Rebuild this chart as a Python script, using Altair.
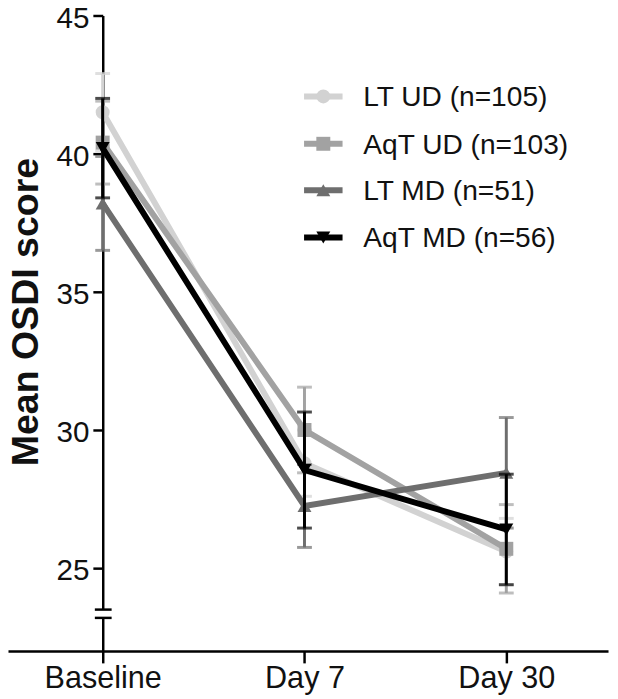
import altair as alt
import pandas as pd

categories = ["Baseline", "Day 7", "Day 30"]
series = ["LT UD (n=105)", "AqT UD (n=103)", "LT MD (n=51)", "AqT MD (n=56)"]
colors = ["#d2d2d2", "#a2a2a2", "#6e6e6e", "#000000"]
shapes = ["circle", "square", "triangle-up", "triangle-down"]

means = {
    "LT UD (n=105)": [41.5, 28.8, 25.6],
    "AqT UD (n=103)": [40.4, 30.0, 25.7],
    "LT MD (n=51)": [38.2, 27.25, 28.45],
    "AqT MD (n=56)": [40.2, 28.55, 26.4],
}
errs = {
    "LT UD (n=105)": [1.4, 1.2, 1.2],
    "AqT UD (n=103)": [1.5, 1.55, 1.6],
    "LT MD (n=51)": [1.7, 1.5, 2.0],
    "AqT MD (n=56)": [1.8, 2.1, 2.0],
}

y_domain = [22, 45]
y_ticks = [25, 30, 35, 40, 45]
axis_break = [23.2, 23.5]

rows = []
for s in series:
    for i, c in enumerate(categories):
        m = means[s][i]
        e = errs[s][i]
        rows.append({"series": s, "cat": c, "idx": i, "mean": m,
                     "lo": m - e, "hi": m + e})
df = pd.DataFrame(rows)

label_expr = "[" + ",".join("'%s'" % c for c in categories) + "][datum.value]"

x_scale = alt.Scale(domain=[-0.469, 2.504], nice=False, zero=False)
y_scale = alt.Scale(domain=y_domain, nice=False, zero=False)

FONT = "Liberation Sans"

x_enc = alt.X("idx:Q", scale=x_scale, axis=alt.Axis(
    values=[0, 1, 2], labelExpr=label_expr, title=None, grid=False,
    domainColor="black", domainWidth=2.5, tickColor="black", tickWidth=2.5,
    tickSize=12, labelFontSize=31, labelColor="#111", labelFont=FONT,
    labelPadding=1, labelFlush=False))
y_enc = alt.Y("mean:Q", scale=y_scale, axis=alt.Axis(
    values=y_ticks, title="Mean OSDI score", grid=False, offset=-96,
    domainColor="black", domainWidth=2.5, tickColor="black", tickWidth=2.5,
    tickSize=10, labelFontSize=30, labelColor="#111", labelFont=FONT,
    labelPadding=4, labelOffset=3, labelFlush=False,
    titleFontSize=38, titleFont=FONT, titleFontWeight="bold",
    titleColor="#111", titleX=-66, titleY=300, titleAlign="center",
    titleBaseline="alphabetic", titleAngle=-90))

layers = []
for s, col, shp in zip(series, colors, shapes):
    d = df[df["series"] == s]
    base = alt.Chart(d)
    err = base.mark_rule(color=col, strokeWidth=3).encode(
        x=alt.X("idx:Q", scale=x_scale), y=alt.Y("lo:Q", scale=y_scale), y2="hi:Q")
    cap_lo = base.mark_tick(color=col, orient="horizontal", size=15, thickness=3).encode(
        x=alt.X("idx:Q", scale=x_scale), y=alt.Y("lo:Q", scale=y_scale))
    cap_hi = base.mark_tick(color=col, orient="horizontal", size=15, thickness=3).encode(
        x=alt.X("idx:Q", scale=x_scale), y=alt.Y("hi:Q", scale=y_scale))
    line = base.mark_line(color=col, strokeWidth=6).encode(x=x_enc, y=y_enc)
    pts = base.mark_point(color=col, filled=True, opacity=1, shape=shp, size=200).encode(
        x=alt.X("idx:Q", scale=x_scale), y=alt.Y("mean:Q", scale=y_scale))
    layers += [err, cap_lo, cap_hi, line, pts]

# axis break marks
brk = pd.DataFrame({"lo": [axis_break[0]], "hi": [axis_break[1]]})
gap = alt.Chart(brk).mark_rule(color="white", strokeWidth=6).encode(
    x=alt.value(96), y=alt.Y("lo:Q", scale=y_scale), y2="hi:Q")
brk_lines = alt.Chart(pd.DataFrame({"v": axis_break})).mark_rule(
    color="black", strokeWidth=2.5).encode(
    x=alt.value(88), x2=alt.value(105), y=alt.Y("v:Q", scale=y_scale))
layers += [gap, brk_lines]

# legend
leg_y = [82, 130, 177, 225]
for s, col, shp, yy in zip(series, colors, shapes, leg_y):
    ld = pd.DataFrame({"label": [s]})
    lb = alt.Chart(ld)
    layers.append(lb.mark_rule(color=col, strokeWidth=6).encode(
        x=alt.value(300), x2=alt.value(339), y=alt.value(yy)))
    layers.append(lb.mark_point(color=col, filled=True, opacity=1, shape=shp, size=200).encode(
        x=alt.value(319.5), y=alt.value(yy)))
    layers.append(lb.mark_text(align="left", baseline="middle", fontSize=28.5,
                               font=FONT, color="#111").encode(
        x=alt.value(360), y=alt.value(yy + 1), text="label:N"))

chart = alt.layer(*layers).properties(
    width=608, height=644,
    autosize=alt.AutoSizeParams(type="none"),
    padding={"left": 0, "top": 3, "right": 2, "bottom": 44},
).configure_view(stroke=None).configure_axis(zindex=0)

chart.save("out.html", embed_options={"renderer": "svg", "actions": False})
